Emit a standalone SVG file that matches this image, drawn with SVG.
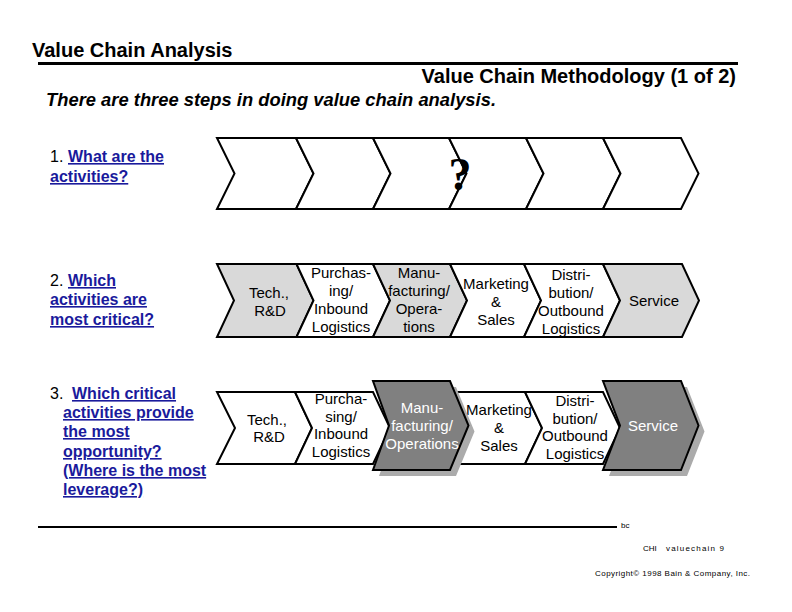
<svg xmlns="http://www.w3.org/2000/svg" width="792" height="612" viewBox="0 0 792 612">
<style>
.t{font-family:"Liberation Sans",Arial,sans-serif;}
.hd{font-family:"Liberation Sans",Arial,sans-serif;font-weight:bold;font-size:20px;fill:#000;}
.q{font-family:"Liberation Sans",Arial,sans-serif;font-size:16px;fill:#000;}
.lk{font-family:"Liberation Sans",Arial,sans-serif;font-size:16px;font-weight:bold;fill:#1a1a9c;text-decoration:underline;}
.lb{font-family:"Liberation Sans",Arial,sans-serif;font-size:15px;fill:#000;text-anchor:middle;}
.lw{font-family:"Liberation Sans",Arial,sans-serif;font-size:15px;fill:#fff;text-anchor:middle;}
.ch{fill:#fff;stroke:#000;stroke-width:2;stroke-linejoin:miter;}
.cg{fill:#d9d9d9;stroke:#000;stroke-width:2;}
.cd{fill:#808080;stroke:#000;stroke-width:2;}
.sh{fill:#ababab;stroke:none;}
.ft{font-family:"Liberation Sans",Arial,sans-serif;font-size:8px;fill:#000;}
</style>
<rect width="792" height="612" fill="#fff"/>
<g id="header">
<text class="hd" x="32" y="57">Value Chain Analysis</text>
<line x1="38" y1="63.5" x2="738" y2="63.5" stroke="#000" stroke-width="3"/>
<text class="hd" x="736" y="83" text-anchor="end">Value Chain Methodology (1 of 2)</text>
<text x="46" y="106" font-family="Liberation Sans, Arial, sans-serif" font-size="18" font-weight="bold" font-style="italic" textLength="450" lengthAdjust="spacingAndGlyphs">There are three steps in doing value chain analysis.</text>
</g>
<g id="questions">
<text class="q" x="50" y="162">1.</text>
<text class="lk" x="68" y="162">What are the</text>
<text class="lk" x="50" y="182">activities?</text>
<text class="q" x="50" y="286">2.</text>
<text class="lk" x="68" y="286">Which</text>
<text class="lk" x="50" y="305">activities are</text>
<text class="lk" x="50" y="325">most critical?</text>
<text class="q" x="50" y="399">3.</text>
<text class="lk" x="72" y="399">Which critical</text>
<text class="lk" x="63" y="418">activities provide</text>
<text class="lk" x="63" y="437">the most</text>
<text class="lk" x="63" y="457">opportunity?</text>
<text class="lk" x="63" y="476">(Where is the most</text>
<text class="lk" x="63" y="495">leverage?)</text>
</g>
<g id="row1">
<path class="ch" d="M217,138 L296,138 L313.5,173.5 L296,209 L217,209 L234.5,173.5 Z"/>
<path class="ch" d="M296,138 L373,138 L390.5,173.5 L373,209 L296,209 L313.5,173.5 Z"/>
<path class="ch" d="M373,138 L449,138 L466.5,173.5 L449,209 L373,209 L390.5,173.5 Z"/>
<path class="ch" d="M449,138 L526,138 L543.5,173.5 L526,209 L449,209 L466.5,173.5 Z"/>
<path class="ch" d="M526,138 L603,138 L620.5,173.5 L603,209 L526,209 L543.5,173.5 Z"/>
<path class="ch" d="M603,138 L681,138 L698.5,173.5 L681,209 L603,209 L620.5,173.5 Z"/>
<text x="460" y="190" font-family="Liberation Serif, Times New Roman, serif" font-size="46" font-weight="bold" text-anchor="middle" fill="#000">?</text>
</g>
<g id="row2">
<g id="r2-tech"><path class="cg" d="M217,264 L296.5,264 L313.5,300.5 L296.5,337 L217,337 L234,300.5 Z"/>
<text class="lb" x="269" y="298">Tech.,</text><text class="lb" x="270" y="316">R&amp;D</text></g>
<g id="r2-purch"><path class="ch" d="M296.5,264 L373,264 L390,300.5 L373,337 L296.5,337 L313.5,300.5 Z"/>
<text class="lb" x="341" y="278">Purchas-</text><text class="lb" x="341" y="296">ing/</text><text class="lb" x="341" y="314">Inbound</text><text class="lb" x="341" y="332">Logistics</text></g>
<g id="r2-manu"><path class="cg" d="M373,264 L450,264 L467,300.5 L450,337 L373,337 L390,300.5 Z"/>
<text class="lb" x="419" y="278">Manu-</text><text class="lb" x="419" y="296">facturing/</text><text class="lb" x="419" y="314">Opera-</text><text class="lb" x="419" y="332">tions</text></g>
<g id="r2-mkt"><path class="ch" d="M450,264 L524,264 L541,300.5 L524,337 L450,337 L467,300.5 Z"/>
<text class="lb" x="496" y="289">Marketing</text><text class="lb" x="496" y="307">&amp;</text><text class="lb" x="496" y="325">Sales</text></g>
<g id="r2-dist"><path class="ch" d="M524,264 L603,264 L620,300.5 L603,337 L524,337 L541,300.5 Z"/>
<text class="lb" x="571" y="280">Distri-</text><text class="lb" x="571" y="298">bution/</text><text class="lb" x="571" y="316">Outbound</text><text class="lb" x="571" y="334">Logistics</text></g>
<g id="r2-serv"><path class="cg" d="M603,264 L682,264 L699,300.5 L682,337 L603,337 L620,300.5 Z"/>
<text class="lb" x="654" y="306">Service</text></g>
</g>
<g id="row3">
<g id="r3-tech"><path class="ch" d="M217,392 L295,392 L312,428 L295,464 L217,464 L235,428 Z"/>
<text class="lb" x="267" y="425">Tech.,</text><text class="lb" x="269" y="442">R&amp;D</text></g>
<g id="r3-purch"><path class="ch" d="M295,392 L373,392 L390,428 L373,464 L295,464 L312,428 Z"/>
<text class="lb" x="341" y="404">Purcha-</text><text class="lb" x="341" y="421.5">sing/</text><text class="lb" x="341" y="439">Inbound</text><text class="lb" x="341" y="456.5">Logistics</text></g>
<g id="r3-mkt"><path class="ch" d="M450,392 L525,392 L542,428 L525,464 L450,464 L467,428 Z"/>
<text class="lb" x="499" y="415">Marketing</text><text class="lb" x="499" y="433">&amp;</text><text class="lb" x="499" y="451">Sales</text></g>
<g id="r3-dist"><path class="ch" d="M525,392 L603,392 L620,428 L603,464 L525,464 L542,428 Z"/>
<text class="lb" x="575" y="406">Distri-</text><text class="lb" x="575" y="423.5">bution/</text><text class="lb" x="575" y="441">Outbound</text><text class="lb" x="575" y="458.5">Logistics</text></g>
<g id="r3-manu"><path class="sh" d="M379,387 L456,387 L474.5,431.5 L456,476 L379,476 L395,431.5 Z"/>
<path class="cd" d="M373,381 L450,381 L468.5,425.5 L450,470 L373,470 L389,425.5 Z"/>
<text class="lw" x="422" y="413">Manu-</text><text class="lw" x="422" y="431">facturing/</text><text class="lw" x="422" y="448.5">Operations</text></g>
<g id="r3-serv"><path class="sh" d="M609,387 L687,387 L704.5,431.5 L687,476 L609,476 L626,431.5 Z"/>
<path class="cd" d="M603,381 L681,381 L698.5,425.5 L681,470 L603,470 L620,425.5 Z"/>
<text class="lw" x="653" y="431">Service</text></g>
</g>
<g id="footer">
<line x1="38" y1="527" x2="617" y2="527" stroke="#000" stroke-width="2"/>
<text class="ft" x="621" y="528" font-size="7">bc</text>
<text class="ft" x="643" y="551">CHI</text>
<text class="ft" x="666" y="551" textLength="58" lengthAdjust="spacing">valuechain  9</text>
<text class="ft" x="595" y="576" textLength="155" lengthAdjust="spacing">Copyright© 1998 Bain &amp; Company, Inc.</text>
</g>
</svg>
